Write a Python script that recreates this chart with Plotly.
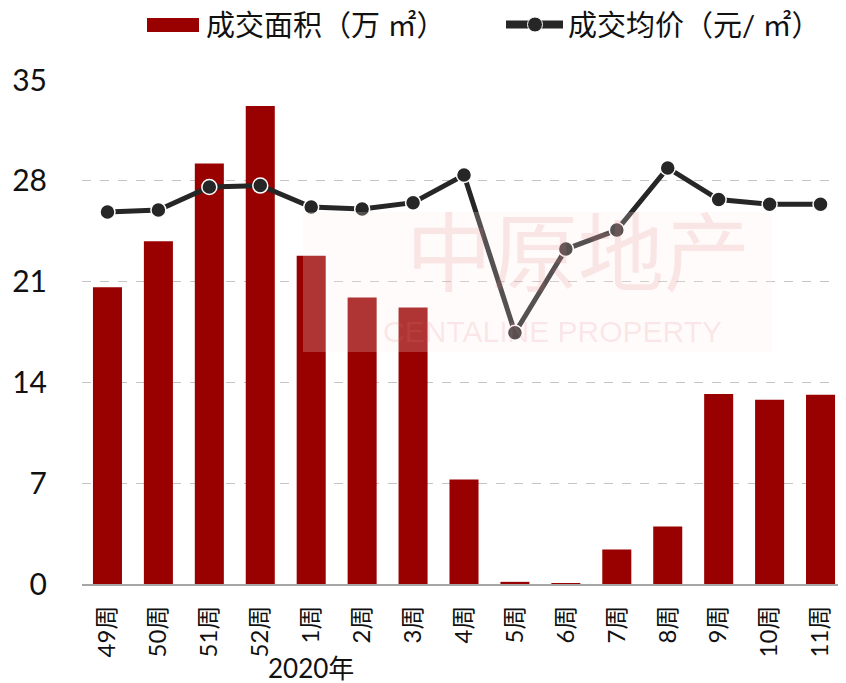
import plotly.graph_objects as go

categories = ["49周", "50周", "51周", "52周", "1周", "2周", "3周", "4周",
              "5周", "6周", "7周", "8周", "9周", "10周", "11周"]
area_values = [20.6, 23.8, 29.2, 33.2, 22.8, 19.9, 19.2, 7.25,
               0.15, 0.06, 2.4, 4.0, 13.2, 12.8, 13.15]
price_values = [25830, 25970, 27570, 27670, 26180, 26040, 26480, 28400,
                 17450, 23260, 24580, 28890, 26700, 26370, 26370]
y_ticks = [0, 7, 14, 21, 28, 35]

area_name = "成交面积（万 ㎡）"
price_name = "成交均价（元/ ㎡）"

FONT = "Lato, 'Noto Sans CJK SC', sans-serif"
OFF = 8  # page body margin
W, H = 846 - OFF, 683 - OFF
# plot area in reference-page pixels: x 82..846, y 80..584
L = 82 - OFF
T = 80 - OFF
R = 0
B = 683 - 584
PW, PH = W - L - R, H - T - B


def px(x):
    return (x - OFF - L) / PW


def py(y):
    return (H - B - (y - OFF)) / PH


fig = go.Figure()
fig.add_trace(go.Bar(x=categories, y=area_values, name=area_name,
                     marker=dict(color="#990000", line=dict(width=0)),
                     showlegend=False))
fig.add_trace(go.Scatter(x=categories, y=price_values, name=price_name,
                         yaxis="y2", mode="lines+markers",
                         line=dict(color="#262626", width=5),
                         marker=dict(size=15, color="#262626",
                                     line=dict(color="white", width=1.5)),
                         showlegend=False))

shapes = [
    dict(type="rect", xref="paper", yref="paper", x0=px(303), x1=px(772),
         y0=py(352), y1=py(212), fillcolor="rgba(255,236,236,0.22)",
         line=dict(width=0), layer="above"),
    dict(type="rect", xref="paper", yref="paper", x0=px(147), x1=px(199),
         y0=py(32), y1=py(18), fillcolor="#990000", line=dict(width=0)),
    dict(type="line", xref="paper", yref="paper", x0=px(506), x1=px(563),
         y0=py(24.5), y1=py(24.5), line=dict(color="#262626", width=8)),
    dict(type="circle", xref="paper", yref="paper", x0=px(527.5), x1=px(542.5),
         y0=py(32), y1=py(17), fillcolor="#262626", line=dict(color="white", width=1)),
]

annotations = [
    dict(text="中原地产", xref="paper", yref="paper", x=px(578), y=py(312),
         yanchor="bottom", showarrow=False,
         font=dict(family="'Noto Sans CJK SC'", size=86,
                   color="rgba(225,120,120,0.16)")),
    dict(text="CENTALINE PROPERTY", xref="paper", yref="paper", x=px(552), y=py(313),
         yanchor="top", showarrow=False,
         font=dict(family="'Liberation Sans', Arial", size=30,
                   color="rgba(225,120,120,0.16)")),
    dict(text=area_name, xref="paper", yref="paper", x=px(204), y=py(25),
         xanchor="left", yanchor="middle", showarrow=False,
         font=dict(family=FONT, size=29, color="#111111")),
    dict(text=price_name, xref="paper", yref="paper", x=px(566), y=py(25),
         xanchor="left", yanchor="middle", showarrow=False,
         font=dict(family=FONT, size=29, color="#111111")),
    dict(text="2020年", xref="x", yref="paper", x="1周", y=py(668),
         xanchor="center", yanchor="middle", showarrow=False,
         font=dict(family=FONT, size=26, color="#111111")),
]

fig.update_layout(
    width=W, height=H,
    margin=dict(l=L, r=R, t=T, b=B, pad=0, autoexpand=False),
    paper_bgcolor="white", plot_bgcolor="white",
    bargap=0.43,
    showlegend=False,
    shapes=shapes,
    annotations=annotations,
    xaxis=dict(type="category", categoryorder="array", categoryarray=categories,
               range=[-0.5, len(categories) - 0.5], automargin=False,
               showline=True, linecolor="#a6a6a6", linewidth=2,
               showgrid=False, ticks="", tickangle=-90,
               ticklabelstandoff=10,
               tickfont=dict(family=FONT, size=24, color="#111111")),
    yaxis=dict(range=[0, 35], tickvals=y_ticks, showgrid=True, automargin=False,
               gridcolor="#c4c4c4", griddash="dash", gridwidth=1,
               zeroline=False, showline=False, ticks="",
               ticklabelstandoff=34,
               tickfont=dict(family=FONT, size=30, color="#111111")),
    yaxis2=dict(range=[0, 35000], overlaying="y", side="right", automargin=False,
                visible=False, showgrid=False, zeroline=False),
)

fig.write_html("out.html")
